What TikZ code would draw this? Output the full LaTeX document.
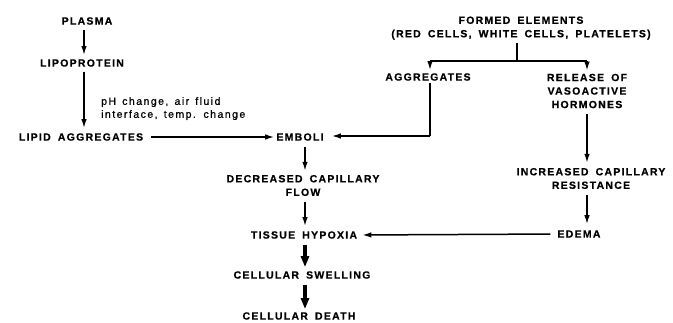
\documentclass[tikz,border=0pt]{standalone}
\usepackage{fontspec}
\setmainfont{Liberation Sans}
\newfontfamily\capsfont{Liberation Sans}[LetterSpace=12,WordSpace=1.7,BoldFeatures={FakeBold=0.6}]
\newfontfamily\notefont{Liberation Sans}[LetterSpace=14,WordSpace=1.4,FakeBold=0.8]
\usetikzlibrary{arrows.meta}
\begin{document}
\begin{tikzpicture}[x=1pt,y=-1pt,
  lbl/.style={inner sep=0pt,align=center,font=\capsfont\bfseries\fontsize{10.5}{13.5}\selectfont},
  note/.style={inner sep=0pt,align=left,font=\notefont\fontsize{10.5}{13}\selectfont},
  arr/.style={line width=1.5pt,-{Latex[length=9pt,width=5.5pt]}},
  ln/.style={line width=1.5pt},
  thick arr/.style={line width=3.6pt,-{Triangle[length=11pt,width=8pt]}}]
\useasboundingbox (0,0) rectangle (673,322);
% nodes
\node[lbl] (plasma) at (87,21) {PLASMA};
\node[lbl] (lipo) at (82,63) {LIPOPROTEIN};
\node[lbl] (lipid) at (81,137) {LIPID AGGREGATES};
\node[note,anchor=north west] (cond) at (101,97) {pH change, air fluid\\interface, temp. change};
\node[lbl] (emboli) at (300,137) {EMBOLI};
\node[lbl] (formed) at (521,28) {FORMED ELEMENTS\\(RED CELLS, WHITE CELLS, PLATELETS)};
\node[lbl] (aggr) at (428,77) {AGGREGATES};
\node[lbl] (release) at (587,91) {RELEASE OF\\VASOACTIVE\\HORMONES};
\node[lbl] (incr) at (591,178.5) {INCREASED CAPILLARY\\RESISTANCE};
\node[lbl] (edema) at (579,234) {EDEMA};
\node[lbl] (decr) at (303,185.5) {DECREASED CAPILLARY\\FLOW};
\node[lbl] (tissue) at (304,235) {TISSUE HYPOXIA};
\node[lbl] (swell) at (302,275) {CELLULAR SWELLING};
\node[lbl] (death) at (299,316) {CELLULAR DEATH};
% helper coordinates
\coordinate (xa) at (84,0);
\coordinate (xc) at (305,0);
\coordinate (xr) at (587,0);
\coordinate (xf) at (517,0);
\coordinate (xg) at (430,0);
\coordinate (bj) at (517,61);
\coordinate (bl) at (430,61);
\coordinate (br) at (587,61);
\coordinate (corner) at (430,136);
% connectors
\draw[arr,shorten <=5pt,shorten >=4pt] (plasma.south -| xa) -- (lipo.north -| xa);
\draw[arr,shorten <=5pt,shorten >=5pt] (lipo.south -| xa) -- (lipid.north -| xa);
\draw[arr,shorten <=8pt,shorten >=2pt] (lipid.east) -- (emboli.west);
\draw[ln,shorten <=2pt] (aggr.south -| xg) -- (corner);
\draw[arr,shorten >=8pt] (corner) -- (emboli.east |- corner);
\draw[ln,shorten <=3pt] (formed.south -| xf) -- (bj);
\draw[ln] (bl) -- (br);
\draw[arr,shorten >=3pt] (bl) -- (aggr.north -| xg);
\draw[arr,shorten >=3pt] (br) -- (release.north -| xr);
\draw[arr,shorten <=6pt,shorten >=5pt] (release.south -| xr) -- (incr.north -| xr);
\draw[arr,shorten <=6pt,shorten >=6pt] (incr.south -| xr) -- (edema.north -| xr);
\draw[arr,shorten <=7pt,shorten >=5pt] (edema.west) -- (tissue.east);
\draw[arr,shorten <=6pt,shorten >=4pt] (emboli.south -| xc) -- (decr.north -| xc);
\draw[arr,shorten <=6pt,shorten >=5pt] (decr.south -| xc) -- (tissue.north -| xc);
\draw[thick arr,shorten <=6pt,shorten >=4pt] (tissue.south -| xc) -- (swell.north -| xc);
\draw[thick arr,shorten <=6pt,shorten >=3pt] (swell.south -| xc) -- (death.north -| xc);
\end{tikzpicture}
\end{document}
